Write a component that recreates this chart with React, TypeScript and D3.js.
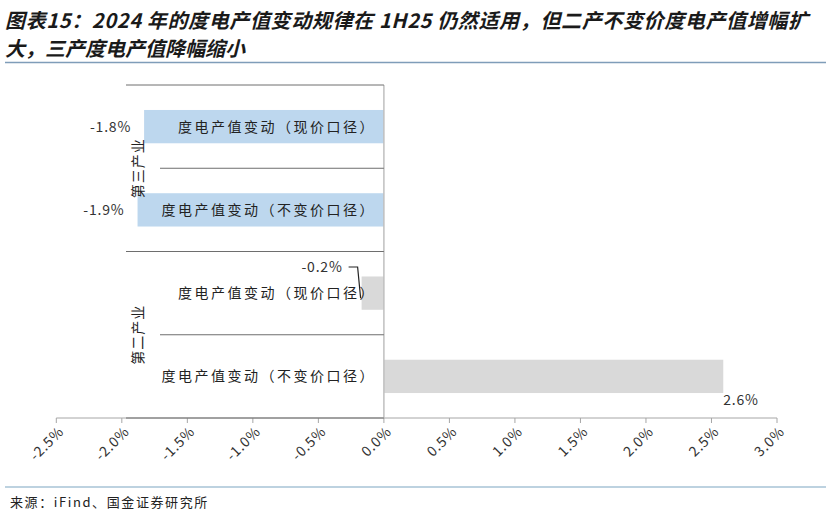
import * as d3 from 'd3';

// 图表15 data
const industries = ['第三产业', '第二产业'];
const measures = ['度电产值变动（现价口径）', '度电产值变动（不变价口径）'];
const tertiaryValues = [-1.83, -1.88];
const secondaryValues = [-0.17, 2.59];
const xTickValues = [-2.5, -2, -1.5, -1, -0.5, 0, 0.5, 1, 1.5, 2, 2.5, 3];

const titleLines = [
  '图表15：2024 年的度电产值变动规律在 1H25 仍然适用，但二产不变价度电产值增幅扩',
  '大，三产度电产值降幅缩小',
];
const sourceText = '来源：iFind、国金证券研究所';

const W = 830;
const H = 515;
const FONT = '"Noto Sans CJK SC", "Noto Sans", sans-serif';

interface Row {
  key: string;
  industry: string;
  measure: string;
  value: number;
  color: string;
}

const rows: Row[] = [
  ...measures.map((m, i) => ({
    key: `t${i}`,
    industry: industries[0],
    measure: m,
    value: tertiaryValues[i],
    color: '#BDD7EE',
  })),
  ...measures.map((m, i) => ({
    key: `s${i}`,
    industry: industries[1],
    measure: m,
    value: secondaryValues[i],
    color: '#D9D9D9',
  })),
];

const fmt = (v: number) => `${v.toFixed(1)}%`;

export default function App() {
  const plotTop = 85;
  const plotBottom = 418;

  const x = d3.scaleLinear().domain([-2.5, 3]).range([56.3, 777]);
  const y = d3
    .scaleBand<string>()
    .domain(rows.map((r) => r.key))
    .range([plotTop, plotBottom])
    .paddingInner(0.6)
    .paddingOuter(0.3);

  const step = y.step();
  const x0 = x(0);
  const groupLineStart = 126;
  const innerLineStart = 160;

  return (
    <svg
      width={W}
      height={H}
      viewBox={`0 0 ${W} ${H}`}
      style={{ position: 'absolute', left: 0, top: 0, background: '#fff' }}
      fontFamily={FONT}
    >
      {/* title */}
      <g fill="#1a1a1a" fontWeight="700" fontStyle="italic" fontSize="20">
        <text x={5} y={28} textLength={803} lengthAdjust="spacing">
          {titleLines[0]}
        </text>
        <text x={5} y={56}>
          {titleLines[1]}
        </text>
      </g>
      <line x1={5} x2={826} y1={62.5} y2={62.5} stroke="#7F9DB9" strokeWidth={1.5} />

      {/* bars */}
      {rows.map((r) => {
        const x1 = x(Math.min(0, r.value));
        const x2 = x(Math.max(0, r.value));
        return (
          <rect
            key={r.key}
            x={x1}
            y={y(r.key)}
            width={x2 - x1}
            height={y.bandwidth()}
            fill={r.color}
          />
        );
      })}

      {/* x axis */}
      <line x1={x(-2.5)} x2={x(3)} y1={plotBottom} y2={plotBottom} stroke="#A6A6A6" />
      {xTickValues.map((t) => (
        <g key={t} transform={`translate(${x(t)},${plotBottom})`}>
          <line y1={0} y2={5} stroke="#A6A6A6" />
          <text
            transform="translate(5,11) rotate(-45)"
            textAnchor="end"
            fontSize="14"
            letterSpacing="0.8"
            fill="#333"
            dy="0.35em"
          >
            {fmt(t)}
          </text>
        </g>
      ))}

      {/* category axis at zero */}
      <line x1={x0} x2={x0} y1={plotTop} y2={plotBottom} stroke="#BFBFBF" strokeWidth={1.5} />
      {d3.range(0, rows.length + 1).map((i) => {
        const yy = plotTop + i * step;
        const start = i % 2 === 0 ? groupLineStart : innerLineStart;
        return (
          <line
            key={i}
            x1={start}
            x2={x0}
            y1={yy}
            y2={yy}
            stroke="#6E6E6E"
          />
        );
      })}

      {/* inner category labels */}
      {rows.map((r) => (
        <text
          key={r.key}
          x={x0 - 8}
          y={(y(r.key) ?? 0) + y.bandwidth() / 2}
          dy="0.35em"
          textAnchor="end"
          fontSize="14"
          letterSpacing="2.5"
          fill="#222"
        >
          {r.measure}
        </text>
      ))}

      {/* outer group labels */}
      {industries.map((ind, gi) => {
        const cy = plotTop + step * (gi * 2 + 1);
        return (
          <text
            key={ind}
            transform={`translate(138,${cy}) rotate(-90)`}
            textAnchor="middle"
            dy="0.35em"
            fontSize="14"
            letterSpacing="1"
            fill="#222"
          >
            {ind}
          </text>
        );
      })}

      {/* data labels */}
      {rows.map((r, i) => {
        const top = y(r.key) ?? 0;
        const bw = y.bandwidth();
        if (r.value >= 0) {
          return (
            <text key={r.key} x={x(r.value)} y={top + bw + 7} dy="0.35em" fontSize="14" letterSpacing="0.8" fill="#333">
              {fmt(r.value)}
            </text>
          );
        }
        if (i === 2) {
          const bx = x(r.value);
          const ly = top - 9.5;
          return (
            <g key={r.key}>
              <text x={bx - 19} y={ly} dy="0.35em" textAnchor="end" fontSize="14" letterSpacing="0.8" fill="#333">
                {fmt(r.value)}
              </text>
              <path
                d={`M${bx - 13},${ly} L${bx - 4},${ly} L${bx - 1},${top + bw / 2 + 5}`}
                fill="none"
                stroke="#222"
                strokeWidth={1.2}
              />
            </g>
          );
        }
        return (
          <text
            key={r.key}
            x={x(r.value) - 13}
            y={top + bw / 2}
            dy="0.35em"
            textAnchor="end"
            fontSize="14"
            letterSpacing="0.8"
            fill="#333"
          >
            {fmt(r.value)}
          </text>
        );
      })}

      {/* source */}
      <line x1={5} x2={826} y1={487} y2={487} stroke="#A7C3D6" strokeWidth={1.5} />
      <text x={10} y={502} dy="0.35em" fontSize="13" letterSpacing="1.6" fill="#222">
        {sourceText}
      </text>
    </svg>
  );
}
